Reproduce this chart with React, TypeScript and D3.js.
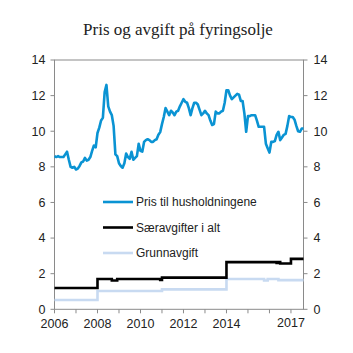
import * as d3 from 'd3';

// Monthly series, Jan 2006 .. Aug 2017 (kr per liter)
const startYear = 2006;

const prisHusholdning = [
  8.6, 8.55, 8.6, 8.55, 8.55, 8.55, 8.7, 8.85, 8.4, 8.0,
  7.95, 8.0, 7.85, 7.9, 8.05, 8.25, 8.3, 8.5, 8.35, 8.4,
  8.55, 8.9, 9.2, 9.1, 9.9, 10.2, 10.6, 10.75, 12.2, 12.6,
  11.4, 11.1, 10.9, 10.3, 8.7, 8.6, 8.2, 8.05, 7.95, 8.2,
  8.75, 8.55, 8.45, 8.85, 8.4, 8.5, 8.6, 9.3, 8.9, 8.85,
  9.4, 9.5, 9.55, 9.5, 9.4, 9.4, 9.5, 9.55, 9.8, 9.95,
  10.4, 10.8, 11.3, 11.1, 10.9, 11.15, 11.05, 10.9, 11.1, 11.15,
  11.4, 11.6, 11.8, 11.65, 11.6, 11.3, 10.9, 11.3, 11.6, 11.6,
  11.5, 11.2, 10.9, 11.0, 11.15, 11.0, 10.9, 10.6, 10.35, 10.4,
  11.1, 11.0, 11.0, 11.1, 11.15, 11.6, 12.3, 12.3, 12.0, 11.8,
  11.9, 12.0, 12.1, 12.05, 11.7, 11.7, 11.0, 9.97, 10.85, 10.85,
  10.9, 10.9, 10.9, 10.6, 10.25, 10.25, 10.25, 10.25, 9.3, 9.05,
  8.8, 9.4, 9.4, 9.45, 9.8, 9.97, 9.5, 9.65, 9.8, 9.85,
  10.3, 10.85, 10.8, 10.8, 10.65, 10.3, 10.0, 9.97, 10.15, 10.15,
];

// Step series: month index where a new level starts, and the level
const saerMonths = [0, 24, 32, 35, 59, 60, 96, 124, 125, 126, 132, 139];
const saerValues = [1.2, 1.7, 1.62, 1.7, 1.65, 1.78, 2.65, 2.6, 2.65, 2.57, 2.83, 2.83];

const grunnMonths = [0, 24, 60, 96, 117, 119, 125, 139];
const grunnValues = [0.52, 1.03, 1.12, 1.7, 1.62, 1.7, 1.64, 1.64];

const yTicks = [0, 2, 4, 6, 8, 10, 12, 14];
const yearTicks = [2006, 2007, 2008, 2009, 2010, 2011, 2012, 2013, 2014, 2015, 2016, 2017];
const yearLabels = [2006, 2008, 2010, 2012, 2014, 2017];

const legendItems = [
  { name: 'Pris til husholdningene', color: '#0a93d3' },
  { name: 'Særavgifter i alt', color: '#000000' },
  { name: 'Grunnavgift', color: '#c8daf1' },
];

type Pt = { m: number; v: number };

export default function App() {
  const width = 353;
  const height = 353;
  const margin = { top: 60, right: 50, bottom: 44, left: 54.5 };
  const x0 = margin.left;
  const x1 = width - margin.right + 0.5;
  const y0 = height - margin.bottom + 0.3;
  const y1 = margin.top;

  const x = d3.scaleLinear().domain([0, 139]).range([x0, x1]);
  const y = d3.scaleLinear().domain([0, 14]).range([y0, y1]);

  const line = d3.line<Pt>().x((d) => x(d.m)).y((d) => y(d.v));
  const stepLine = d3.line<Pt>().x((d) => x(d.m)).y((d) => y(d.v)).curve(d3.curveStepAfter);

  const pris: Pt[] = prisHusholdning.map((v, i) => ({ m: i, v }));
  const saer: Pt[] = saerMonths.map((m, i) => ({ m, v: saerValues[i] }));
  const grunn: Pt[] = grunnMonths.map((m, i) => ({ m, v: grunnValues[i] }));

  const axisColor = '#8a8a8a';
  const textColor = '#222';
  const font = '"Liberation Sans", Arial, sans-serif';
  const fs = 12;

  return (
    <svg
      width={width}
      height={height}
      style={{ position: 'absolute', left: 0, top: 0, background: '#fff' }}
    >
      <text
        x={178}
        y={35}
        textAnchor="middle"
        fontFamily='"Liberation Serif", "Times New Roman", serif'
        fontSize={17}
        fill={textColor}
      >
        Pris og avgift på fyringsolje
      </text>

      {/* frame */}
      <rect x={x0} y={y1} width={x1 - x0} height={y0 - y1} fill="none" stroke={axisColor} strokeWidth={1} />

      {/* y ticks, both sides */}
      {yTicks.map((t) => (
        <g key={t}>
          <line x1={x0 - 4} x2={x0} y1={y(t)} y2={y(t)} stroke={axisColor} />
          <line x1={x1} x2={x1 + 4} y1={y(t)} y2={y(t)} stroke={axisColor} />
          <text x={x0 - 9} y={y(t)} dy="0.35em" textAnchor="end" fontFamily={font} fontSize={fs + 0.5} fill={textColor}>
            {t}
          </text>
          <text x={x1 + 10} y={y(t)} dy="0.35em" textAnchor="start" fontFamily={font} fontSize={fs + 0.5} fill={textColor}>
            {t}
          </text>
        </g>
      ))}

      {/* x ticks */}
      {yearTicks.map((yr) => (
        <line
          key={yr}
          x1={x((yr - startYear) * 12)}
          x2={x((yr - startYear) * 12)}
          y1={y0}
          y2={y0 + 4}
          stroke={axisColor}
        />
      ))}
      {yearLabels.map((yr) => (
        <text
          key={yr}
          x={x((yr - startYear) * 12)}
          y={yr === 2017 ? 326.5 : 328}
          textAnchor="middle"
          fontFamily={font}
          fontSize={fs + 0.5}
          fill={textColor}
        >
          {yr}
        </text>
      ))}

      {/* series */}
      <path d={stepLine(grunn) ?? ''} fill="none" stroke={legendItems[2].color} strokeWidth={2.6} />
      <path d={stepLine(saer) ?? ''} fill="none" stroke={legendItems[1].color} strokeWidth={2.6} />
      <path d={line(pris) ?? ''} fill="none" stroke={legendItems[0].color} strokeWidth={2.6} strokeLinejoin="round" />

      {/* legend */}
      {legendItems.map((it, i) => {
        const ly = 202 + i * 25.5;
        return (
          <g key={it.name}>
            <line x1={103} x2={133} y1={ly} y2={ly} stroke={it.color} strokeWidth={2.6} />
            <text x={136} y={ly} dy="0.35em" fontFamily={font} fontSize={fs} fill={textColor}>
              {it.name}
            </text>
          </g>
        );
      })}
    </svg>
  );
}
